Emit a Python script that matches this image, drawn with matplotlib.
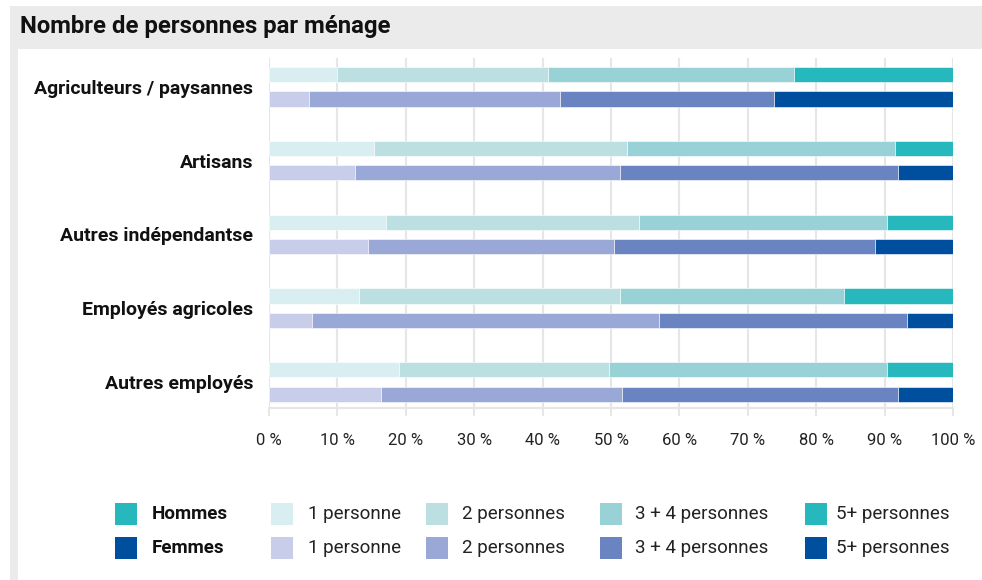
import matplotlib.pyplot as plt
from matplotlib.patches import Rectangle

# Part des ménages selon le nombre de personnes (%)
categories = ["Agriculteurs / paysannes", "Artisans", "Autres indépendantse",
              "Employés agricoles", "Autres employés"]
sizes = ["1 personne", "2 personnes", "3 + 4 personnes", "5+ personnes"]

hommes = [
    [9.9, 30.9, 36.0, 23.2],
    [15.3, 37.0, 39.2, 8.5],
    [17.1, 37.0, 36.3, 9.6],
    [13.2, 38.1, 32.7, 16.0],
    [19.0, 30.7, 40.7, 9.6],
]
femmes = [
    [5.9, 36.6, 31.3, 26.2],
    [12.5, 38.8, 40.6, 8.1],
    [14.5, 36.0, 38.1, 11.4],
    [6.3, 50.7, 36.3, 6.7],
    [16.4, 35.2, 40.3, 8.1],
]
xticks = [0, 10, 20, 30, 40, 50, 60, 70, 80, 90, 100]

colors_h = ["#d9eef0", "#bce0e1", "#98d2d6", "#26b8bc"]
colors_f = ["#c8cdea", "#99a8d6", "#6a84c2", "#004e9e"]

W, H = 982, 580
plt.rcParams['font.family'] = ['Roboto', 'DejaVu Sans']

fig = plt.figure(figsize=(W / 100, H / 100), dpi=100)


def fx(px):
    return px / W


def fy(py):
    return 1 - py / H


# cadre gris + panneau blanc
fig.patches.append(Rectangle((fx(10), 0), 1 - fx(10), fy(6), transform=fig.transFigure,
                             facecolor="#ebebeb", edgecolor="none", zorder=-2))
fig.patches.append(Rectangle((fx(18), 0), 1 - fx(18), fy(49), transform=fig.transFigure,
                             facecolor="white", edgecolor="none", zorder=-1))
fig.text(fx(20), fy(27), "Nombre de personnes par ménage", fontsize=17.2,
         fontweight="bold", va="center", ha="left", color="#111111")

ax = fig.add_axes([fx(269), fy(408), fx(953) - fx(269), fy(58) - fy(408)])

bar_h = 0.205
off = 0.166
for i in range(len(categories)):
    left_h = 0
    left_f = 0
    for k in range(4):
        ax.barh(i - off, hommes[i][k], left=left_h, height=bar_h, color=colors_h[k],
                edgecolor="white", linewidth=0.4, zorder=3)
        ax.barh(i + off, femmes[i][k], left=left_f, height=bar_h, color=colors_f[k],
                edgecolor="white", linewidth=0.4, zorder=3)
        left_h += hommes[i][k]
        left_f += femmes[i][k]

ax.set_xlim(0, 100)
ax.set_ylim(4.35, -0.39)
ax.set_xticks(xticks)
ax.set_xticklabels([f"{t} %" for t in xticks], fontsize=12, color="#222222")
ax.set_yticks(range(len(categories)))
ax.set_yticklabels(categories, fontsize=14, fontweight="bold", color="#111111")
ax.tick_params(axis="y", length=0, pad=11.5)
ax.tick_params(axis="x", length=6, width=1.4, color="#e6e6e6", pad=12)
ax.grid(axis="x", color="#e6e6e6", linewidth=1.5, zorder=0)
for s in ["top", "right", "left"]:
    ax.spines[s].set_visible(False)
ax.spines["bottom"].set_color("#e6e6e6")
ax.spines["bottom"].set_linewidth(1.5)

# légende
sq = 22
rows = [(514, "Hommes", colors_h), (548, "Femmes", colors_f)]
cols = [(271, 308), (426, 462), (600, 635), (805, 836)]
for yc, lab, cols_ in rows:
    fig.patches.append(Rectangle((fx(115), fy(yc + sq / 2)), fx(sq), sq / H,
                                 transform=fig.transFigure, facecolor=cols_[-1],
                                 edgecolor="none"))
    fig.text(fx(152), fy(yc), lab, fontsize=13.5, fontweight="bold", va="center",
             color="#111111")
    for k, (sx, tx) in enumerate(cols):
        fig.patches.append(Rectangle((fx(sx), fy(yc + sq / 2)), fx(sq), sq / H,
                                     transform=fig.transFigure, facecolor=cols_[k],
                                     edgecolor="none"))
        fig.text(fx(tx), fy(yc), sizes[k], fontsize=13.5, va="center", color="#222222")

fig.savefig("out.png", dpi=100)
